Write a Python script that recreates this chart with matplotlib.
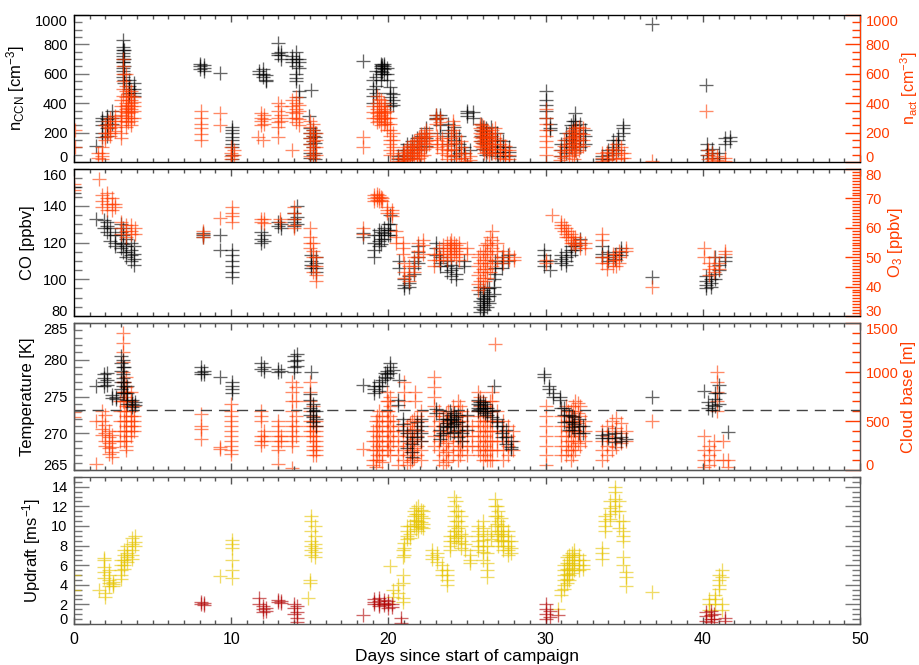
import matplotlib
matplotlib.use('Agg')
from matplotlib import pyplot as plt
from matplotlib.ticker import MultipleLocator

plt.rcParams['font.family'] = ['Liberation Sans', 'DejaVu Sans']
plt.rcParams['mathtext.default'] = 'regular'

# Data: columns of (day, [values])
ccn = [
    (1.4, [110]), (1.8, [300, 280, 250, 200, 170]), (2.1, [310, 290, 260, 230, 180]),
    (2.4, [350, 300, 260]), (3.1, [830, 780, 760, 740, 700, 680, 640]),
    (3.15, [720, 680, 620, 580]),
    (3.2, [760, 700, 650, 600, 560, 540]), (3.5, [560, 520, 500, 470, 450]),
    (3.8, [540, 500, 470, 450]),
    (8.0, [670, 650, 630]), (8.3, [660, 640, 620]), (9.3, [605]),
    (10.05, [240, 220, 195, 170, 150, 120, 100, 50, 20]),
    (11.8, [620, 600]), (12.0, [630, 600, 580]), (12.2, [590, 560, 550]),
    (13.0, [810, 740, 730]), (13.2, [750, 730, 700]),
    (13.9, [720, 700, 680]), (14.1, [750, 700, 650, 600, 570, 550]), (14.3, [700, 680, 640, 480, 445]),
    (15.1, [490]), (14.95, [310]),
    (15.0, [230, 200, 160, 120, 60, 25]), (15.2, [220, 180, 140, 100, 50]), (15.35, [200, 170, 130, 60, 20]),
    (18.4, [684]),
    (19.0, [560, 500, 450, 400]), (19.2, [620, 580, 520, 470]),
    (19.5, [670, 650, 640, 620, 600, 560]), (19.6, [660, 640, 610]),
    (19.7, [670, 650, 630, 600]), (19.9, [640, 600, 560]),
    (20.1, [510, 470, 440, 400, 380]), (20.3, [460, 420, 390]),
    (20.6, [40, 20]), (20.9, [80, 50, 20]), (21.2, [120, 80, 40]), (21.5, [140, 100, 60, 30]),
    (21.8, [160, 120, 80]), (22.1, [180, 140, 100]), (22.4, [230, 200, 160, 110]),
    (23.0, [320, 300, 290]), (23.3, [320, 300, 250, 200]),
    (23.8, [260, 220, 180, 120]), (24.2, [240, 200, 150, 80, 40]), (24.5, [180, 120, 60]),
    (25.0, [350, 330, 310]), (25.4, [340, 300]), (24.8, [100, 60]), (25.2, [80]),
    (25.9, [260, 220, 180, 140]), (26.05, [240, 210, 170, 130, 90]),
    (26.2, [230, 200, 160, 120, 80, 50]),
    (26.5, [240, 180, 140, 100, 60]), (26.9, [200, 150, 110, 70, 40]),
    (27.3, [140, 100, 70, 40]), (27.7, [100, 70, 40]),
    (30.0, [480, 420, 390, 350, 300]), (30.3, [260, 230, 220]),
    (31.0, [120, 80, 40]), (31.3, [200, 150, 100, 60]), (31.6, [250, 200, 150, 100]),
    (31.75, [280, 230, 180, 130]),
    (31.9, [330, 280, 250, 200, 150, 80]), (32.2, [260, 200, 150, 100]), (32.5, [220, 180, 120]),
    (33.6, [40, 20]), (34.0, [80, 50, 20]), (34.3, [150, 100, 60]), (34.6, [180, 150, 120, 80]),
    (34.9, [250, 230, 200]),
    (36.8, [940]), (40.2, [525]),
    (40.25, [120, 80, 50]), (40.6, [90, 60, 30]), (41.0, [60, 30]),
    (41.4, [160, 120]), (41.7, [170, 140]),
]

nact = [
    (0.05, [220, 100]), (1.5, [60, 30]), (1.8, [100, 60, 40, 20]),
    (2.0, [250, 200, 170, 150]), (2.15, [280, 240, 200]),
    (2.3, [300, 260, 230, 200, 180]), (2.6, [310, 280, 240, 210]),
    (3.0, [420, 380, 350, 320, 300, 280, 250, 200, 160]), (3.1, [700, 650, 600, 550, 500, 450]),
    (3.3, [600, 520, 480, 440, 400, 380, 360, 340, 310, 280, 240]),
    (3.45, [460, 420, 390, 370, 350, 330, 300, 270]),
    (3.6, [480, 450, 420, 400, 380, 360, 340, 300, 280, 250]), (3.8, [440, 410, 380, 350, 300]),
    (8.1, [350, 300, 260, 230, 190, 150]), (9.3, [330, 250]),
    (10.0, [100, 60, 40, 20]), (10.2, [80, 50]),
    (11.9, [330, 300, 280, 250]), (12.1, [320, 290, 260]), (11.7, [170]), (12.0, [150]),
    (13.0, [400, 350, 300, 270, 240, 170]), (13.2, [380, 320, 280]),
    (13.9, [420, 380, 340, 300, 80]), (14.1, [440, 400, 360, 330, 300, 270]), (14.3, [390, 350, 290, 250]),
    (15.0, [280, 240, 200, 160, 120, 80, 40]), (15.2, [260, 220, 180, 140, 100, 60, 30]),
    (15.4, [200, 150, 100, 50]),
    (18.4, [170, 100]),
    (19.0, [380, 340, 300]), (19.3, [450, 400, 360, 330, 300, 270]),
    (19.4, [430, 380, 340, 310, 280]),
    (19.5, [420, 380, 350, 320, 290, 250]), (19.7, [400, 360, 330, 300, 260]),
    (19.8, [380, 340, 300, 270]), (19.9, [350, 300, 260, 220]),
    (20.1, [300, 260, 220, 180, 150, 120, 80, 50]), (20.3, [200, 150, 100, 60]),
    (20.6, [30, 10]), (20.9, [60, 30, 10]), (21.0, [80, 50, 20]),
    (21.2, [100, 70, 40, 15]), (21.35, [110, 80, 50, 20]), (21.5, [120, 90, 60, 30]),
    (21.65, [140, 110, 70, 40]),
    (21.8, [150, 120, 90, 50, 20]), (21.95, [170, 140, 100, 60, 30]),
    (22.1, [190, 160, 120, 80, 40]), (22.25, [200, 170, 130, 90, 50]), (22.4, [220, 180, 140, 100]),
    (22.6, [200, 150, 120]),
    (23.0, [320, 290, 260]), (23.3, [300, 270]),
    (23.1, [180, 150, 120, 100]), (23.4, [160, 120, 90, 60]),
    (23.7, [140, 110, 80, 50, 20]), (24.0, [200, 160, 120, 80, 40]), (24.1, [280, 250, 220]),
    (24.3, [180, 130, 90, 50, 20]), (24.6, [140, 100, 60, 30]),
    (24.9, [60, 30, 10]), (25.2, [40, 15]),
    (25.8, [260, 230, 200, 170, 140, 110]), (25.95, [250, 220, 190, 160, 130, 100]),
    (26.1, [240, 210, 180, 150, 120, 90, 60]), (26.25, [220, 190, 160, 130, 100, 70]),
    (26.4, [200, 170, 140, 110, 80, 50]), (26.6, [220, 180, 150, 120, 90, 60]),
    (26.8, [230, 200, 160, 120, 90, 60]),
    (27.1, [150, 120, 90, 60, 30]), (27.4, [110, 80, 50, 20]), (27.7, [80, 50, 20]),
    (30.0, [360, 300, 260, 220, 180, 140, 100, 50]),
    (30.9, [80, 40, 15]), (31.2, [150, 110, 70, 30]), (31.5, [200, 160, 120, 80, 40]),
    (31.65, [210, 170, 130, 90, 50]),
    (31.8, [220, 180, 140, 100, 60, 20]), (31.95, [230, 190, 150, 110, 70]),
    (32.1, [240, 200, 160, 120, 80]), (32.4, [230, 190, 150, 110]),
    (33.6, [60, 30, 10]), (33.9, [70, 40, 15]), (34.2, [90, 60, 30]), (34.5, [120, 80, 50, 20]),
    (34.8, [100, 60, 30]), (35.0, [60, 30]),
    (36.8, [10]), (40.2, [350]),
    (40.3, [80, 50, 20]), (40.6, [60, 30, 10]), (40.9, [40, 15]), (41.4, [30, 10]),
]

co = [
    (0.0, [150, 147]), (1.4, [133]),
    (1.9, [132, 128]), (2.1, [131, 129, 126]), (2.3, [128, 124, 121]), (2.6, [124, 120, 118]),
    (3.0, [130, 126, 120, 117]), (3.15, [128, 124, 119, 115]),
    (3.3, [122, 118, 115, 112]), (3.6, [120, 116, 113, 110]),
    (3.8, [118, 114, 111, 108]),
    (8.2, [125, 124, 123]), (9.3, [124, 116]),
    (10.05, [116, 113, 110, 107, 104, 101]),
    (11.9, [126, 122, 120]), (12.1, [124, 121]),
    (13.0, [131, 129]), (13.2, [130, 128]),
    (14.0, [136, 133, 131, 129]), (14.2, [140, 134, 130]),
    (15.1, [113, 110, 108, 106]), (15.4, [112, 109, 106, 104]),
    (18.4, [125, 123]),
    (19.1, [124, 120, 116, 112]), (19.4, [127, 124, 121, 118]), (19.55, [126, 122, 119]),
    (19.7, [128, 125, 122]),
    (20.0, [130, 127, 124]), (20.1, [135, 130, 127, 124]),
    (20.7, [110, 106]), (21.0, [100, 97, 95]), (21.3, [102, 98, 96]), (21.6, [110, 106, 103]),
    (21.9, [118, 115, 112, 109]),
    (23.0, [120, 117, 113]), (23.3, [112, 109, 107]), (23.7, [110, 107, 104]),
    (24.0, [108, 105, 102]), (24.3, [106, 103, 100]), (24.8, [110, 107]),
    (25.8, [96, 92, 88, 85, 82]), (26.0, [94, 90, 87, 84]), (26.1, [93, 89, 86, 83]),
    (26.25, [95, 91, 88, 85]), (26.4, [95, 91, 87]),
    (26.7, [100, 96, 92]), (26.8, [110, 106, 103]), (27.2, [112, 109, 106]), (27.6, [113, 110]),
    (29.9, [116, 113, 110, 107]), (30.3, [110, 105]),
    (31.0, [113, 111, 109]), (31.3, [115, 112, 110, 108]), (31.6, [118, 116, 113]),
    (31.9, [120, 118, 116]), (32.2, [122, 120]),
    (33.6, [118, 114, 112]), (34.0, [115, 112, 110]), (34.4, [113, 111]), (34.8, [117, 115, 113]),
    (36.8, [101]),
    (40.2, [102, 99, 97, 95]), (40.5, [100, 98, 96]), (40.8, [112, 103, 100]),
    (41.0, [108, 105]), (41.4, [112, 110]),
]

o3 = [
    (0.0, [75, 73]), (1.6, [76.5]),
    (1.8, [71, 69, 67]), (2.1, [72, 70, 68, 66]), (2.4, [70, 68, 66]), (2.6, [68, 67]),
    (3.0, [62, 60, 58]), (3.3, [61, 59, 57]), (3.6, [61, 59, 58]), (3.9, [60, 58]),
    (8.2, [59, 58, 57]), (9.3, [63.5]), (10.05, [67, 65, 64, 62]),
    (11.9, [63, 62]), (12.1, [63, 61.5]), (13.1, [63, 62]),
    (14.0, [67, 65, 63, 61, 60]),
    (15.0, [60, 57, 55, 53]), (15.2, [55, 52, 50, 47, 45]), (15.4, [50, 47, 44, 42]),
    (18.4, [60, 58]),
    (19.1, [71, 70, 69]), (19.25, [71.5, 70.5, 69.5]), (19.4, [71, 70, 69]),
    (19.5, [70.5, 69.5]), (19.6, [70, 69]),
    (19.9, [67, 66, 65]), (20.2, [66, 65, 64]),
    (20.5, [59, 57, 55]), (20.9, [55, 53, 51]),
    (21.0, [48, 45, 43]), (21.3, [47, 44, 42]), (21.6, [50, 47, 45]),
    (21.9, [55, 52, 50]), (22.2, [56, 54, 51]),
    (22.9, [51, 49, 47]), (23.2, [53, 51, 49]), (23.5, [54, 52, 50]), (23.7, [55, 53, 51, 49]),
    (23.9, [55, 53, 51]),
    (24.0, [56, 54, 52, 50]), (24.2, [55, 53, 51]), (24.3, [54, 52, 50]),
    (24.5, [55, 53, 51, 49]), (25.0, [53, 51]),
    (25.7, [50, 47, 44, 41, 39]), (25.85, [51, 48, 45, 42]), (26.0, [52, 49, 46, 43, 40]),
    (26.15, [54, 51, 48, 45, 42]), (26.3, [55, 52, 49, 46, 43]),
    (26.45, [57, 54, 51, 48, 45]), (26.6, [59, 56, 53, 50, 47]), (26.9, [55, 52, 49]),
    (27.3, [52, 50, 48]), (27.7, [51, 49]), (28.0, [50, 49]),
    (30.0, [49, 48]), (30.4, [64.5]),
    (31.0, [62, 61, 60]), (31.15, [61, 59]), (31.3, [60, 58, 57]), (31.45, [59, 57]),
    (31.6, [58, 56, 55]), (31.75, [57, 55]), (31.9, [57, 55, 54]),
    (32.2, [56, 54, 53]), (32.5, [55, 53]),
    (33.6, [58, 56, 50, 48]), (33.9, [50, 48, 46]), (34.3, [51, 49, 47]), (34.5, [51, 49, 47]),
    (34.7, [52, 50, 48]), (35.1, [53, 52]),
    (36.8, [40]),
    (40.1, [53, 50]), (40.4, [48, 46, 44]), (40.7, [50, 47, 45]), (41.0, [48, 46]), (41.4, [52, 51]),
]

temp = [
    (1.4, [276.4]), (1.9, [278, 277.5, 277, 276.5]), (2.1, [278.2, 277.3, 276.6]),
    (2.4, [275.2, 274.8]), (2.7, [275.0, 274.6]),
    (3.0, [280.5, 279.5, 278.5, 277, 276]), (3.1, [280, 279, 278, 277.5, 276.5, 275.5]),
    (3.2, [279, 277, 275.5]),
    (3.4, [276.5, 275.5, 274.5, 274.0]), (3.7, [274.5, 274.0, 273.6]), (3.9, [274.3, 273.8]),
    (8.1, [279, 278.4, 278]), (8.3, [278.5, 278]), (9.3, [277.7]),
    (10.05, [277, 276.5, 276, 275.5]),
    (11.9, [279.6, 278.7]), (12.1, [279, 278.5]),
    (13.0, [278.7, 278.3]), (13.2, [278.5]),
    (14.0, [280.5, 279.8, 279, 278.4]), (14.2, [280.8, 280, 279.2]),
    (15.05, [278.3]),
    (15.0, [275.3, 274.5, 273.5, 272.5]), (15.2, [274, 273, 272.2, 271.5]), (15.4, [273, 272, 271]),
    (18.4, [276.6]),
    (19.1, [276.5, 276, 275.5]), (19.4, [277, 276.5, 275.8]), (19.6, [277.2, 276.5]),
    (19.8, [278.2, 277.6]),
    (19.9, [278.5, 278, 277.5]), (20.1, [279.5, 279, 278.2]), (20.3, [278.6]),
    (20.7, [277.2]),
    (20.6, [274.5, 273.8]), (20.9, [272, 271.2, 270.5]), (21.2, [270, 269, 268]),
    (21.5, [269.5, 268.5, 267.5, 266.8]), (21.8, [271.5, 270.5, 269.5]), (22.1, [272, 271, 270, 269]),
    (23.0, [273.3, 272.8]), (23.3, [270.5, 269.8, 269.2]), (23.7, [272, 271.4, 270.8]),
    (24.0, [272.5, 271.8, 271]), (24.2, [272.8, 272, 271.2, 270.2]), (24.3, [272.2, 271.5]),
    (23.5, [272, 271, 270]), (23.9, [273, 272, 271, 270]), (24.4, [272.5, 271.5, 270.5, 269.5]),
    (24.7, [271, 270, 269]), (25.0, [272.5, 270.5]),
    (25.7, [274.5, 274, 273.5, 273]), (25.85, [274.3, 273.8, 273.3]),
    (26.0, [274.2, 273.5, 273]), (26.15, [274, 273.4, 272.8]), (26.3, [273.5, 273, 272.5]),
    (26.6, [273, 272.2]), (26.7, [276.4]),
    (26.9, [272, 271.5, 271]), (27.2, [271, 270, 269.5]), (27.5, [270.5, 269.5, 268.5]),
    (27.8, [269, 268.2, 267.8]),
    (29.9, [278, 277.6]), (30.2, [276.5, 276]), (30.5, [275.5, 275]),
    (30.9, [275, 274.5]), (31.0, [273.5]),
    (31.2, [273.5, 272.5, 271.5]), (31.5, [272.5, 271.5, 270.5]), (31.65, [272.4, 271.6, 270.8]),
    (31.8, [272.2, 271.3, 270.5]),
    (32.1, [272, 271, 270]), (32.4, [271, 270]),
    (33.6, [269.8, 269.3]), (34.0, [269.9, 269.4]), (34.4, [270, 269.3, 268.8]),
    (34.8, [269.5, 269]), (35.1, [269.2]),
    (36.8, [275]),
    (40.1, [275.8]), (40.3, [274.2, 273.5]), (40.6, [273.8, 273.2]), (40.8, [275.5, 274.6, 273.7]),
    (41.0, [276.6, 275.5, 274]), (41.6, [270.2]),
]

cloud_base = [
    (0.0, [590, 540]), (1.4, [500, 60]),
    (1.8, [600, 500, 420, 360]), (2.0, [560, 460, 380, 300, 250]), (2.2, [400, 340, 280, 220, 160]),
    (2.4, [360, 300, 240, 180, 130]),
    (2.9, [700, 600, 500, 400, 300]), (3.1, [1400, 1300, 1200, 1100, 1000, 900, 800, 700]),
    (3.2, [900, 800, 700, 600, 500, 400, 300]),
    (3.3, [950, 850, 800, 750, 700, 650, 600, 550, 500, 450, 400, 350, 300, 250, 200]),
    (3.6, [800, 700, 650, 600, 550, 500, 450, 400, 350]), (3.8, [650, 550, 500, 450, 400]),
    (8.1, [570, 450, 420, 320]), (9.3, [230, 210]),
    (10.0, [670, 600, 550, 500, 450, 400, 350, 300, 250, 200, 160]),
    (11.9, [600, 550, 500, 350, 300, 260]), (12.1, [400, 350, 300]),
    (13.0, [500, 450, 400, 350, 300, 250, 200, 60]), (13.2, [350, 300]),
    (13.9, [900, 800, 700, 600, 500, 450, 400, 350, 300, 250, 20]), (14.1, [850, 700, 550, 450, 350]),
    (15.0, [900, 800, 700, 600, 500, 450, 400, 350]),
    (15.2, [650, 550, 500, 450, 400, 350, 300, 250, 200, 150]),
    (15.4, [500, 450, 400, 350, 300, 250, 200, 150]),
    (18.4, [210]),
    (19.0, [400, 300, 200, 100, 50]), (19.2, [500, 400, 300, 200, 100, 30]),
    (19.3, [550, 450, 350, 250, 150]),
    (19.4, [600, 500, 400, 300, 200, 100]), (19.6, [550, 450, 350, 250, 150, 80]),
    (19.9, [800, 700, 600, 500, 400, 300, 200]), (20.0, [700, 600, 500, 400, 300, 200]),
    (20.1, [750, 650, 550, 450, 350, 250, 150]),
    (20.3, [500, 400, 300]),
    (20.6, [450, 350, 250, 150, 50]), (20.9, [400, 300, 200, 100]), (21.0, [900, 800, 700]),
    (21.2, [450, 350, 250, 150, 50]), (21.35, [480, 380, 280, 180, 80]),
    (21.5, [500, 400, 300, 200, 100]), (21.65, [520, 420, 320, 220, 120]),
    (21.7, [800, 700]), (21.8, [550, 450, 350, 250, 150]), (22.1, [600, 500, 400, 300, 200, 100]),
    (22.9, [950, 850, 750, 650, 550, 450, 350, 250]), (23.2, [600, 500, 400, 300, 200, 100]),
    (23.5, [550, 450, 350, 250, 150, 50]), (23.65, [580, 480, 380, 280, 180, 80]),
    (23.8, [600, 500, 400, 300, 200, 100]),
    (24.1, [650, 550, 450, 350, 250, 150]),
    (24.4, [700, 600, 500, 400, 300, 200, 100]), (24.55, [650, 550, 450, 350, 250, 150]),
    (24.7, [600, 500, 400, 300, 200]),
    (25.0, [550, 450, 350, 250, 150]), (25.3, [450, 350, 250]),
    (25.7, [800, 700, 600, 500, 400, 300, 200]), (25.85, [750, 650, 550, 450, 350, 250, 150]),
    (26.0, [700, 600, 500, 400, 300, 200, 100]), (26.15, [650, 550, 450, 350, 250, 150]),
    (26.3, [600, 500, 400, 300, 200, 100]), (26.45, [700, 600, 500, 400, 300, 200, 100]),
    (26.6, [800, 700, 600, 500, 400, 300, 200, 100]),
    (26.8, [1290]), (26.9, [600, 500, 400, 300, 200]),
    (27.3, [500, 400, 300, 200, 100]), (27.6, [450, 350, 250, 150]), (27.9, [400, 300, 200]),
    (30.0, [650, 550, 450, 350, 250, 150, 50]),
    (31.0, [550, 450, 350, 250, 150]), (31.3, [650, 550, 450, 350, 250, 150]),
    (31.45, [600, 500, 400, 300, 200]),
    (31.6, [600, 500, 400, 300, 200, 100]), (31.75, [650, 550, 450, 350, 250, 150]),
    (31.9, [700, 600, 500, 400, 300, 200]), (32.05, [680, 580, 480, 380, 280]),
    (32.2, [650, 550, 450, 350, 250]), (32.5, [500, 400, 300]),
    (33.6, [400, 300, 200, 100]), (33.9, [450, 350, 250, 150]), (34.2, [500, 400, 300, 200]),
    (34.5, [530, 430, 330, 230]), (34.8, [480, 380, 280]), (35.1, [400, 300]),
    (36.8, [500]),
    (40.1, [350, 200, 100, 30]), (40.4, [250, 150, 50]), (40.7, [300, 200, 100]),
    (40.9, [1000, 900, 800, 700, 600]), (41.3, [300, 100]), (41.6, [100, 30]),
]

updraft_yellow = [
    (0.0, [5.0, 3.5]), (1.6, [3.5]), (2.0, [3.2, 2.8]),
    (1.9, [6.7, 6.5, 5.8, 5.3, 4.7]), (2.2, [5.5, 5.0, 4.5, 4.2, 3.9]), (2.5, [4.3, 4.1, 3.9]),
    (3.0, [6.5, 6.0, 5.5, 5.0, 4.6]), (3.2, [7.5, 7.0, 6.5, 6.0, 5.6]), (3.4, [8.0, 7.2, 6.8, 6.3]),
    (3.7, [8.8, 8.2, 7.5, 7.0, 6.6]), (3.9, [9.0, 8.4, 8.0]),
    (9.3, [4.9]), (10.05, [8.6, 8.2, 7.8, 6.5, 5.5, 4.7]),
    (15.0, [4.5, 4.2]), (14.9, [2.6]),
    (15.1, [11.0, 10.5, 9.5, 8.5, 8.0, 7.5, 7.0]), (15.3, [10.0, 9.0, 8.2, 7.8, 7.3, 6.8]),
    (20.1, [5.9]), (20.3, [3.5, 2.8]), (20.6, [4.0, 3.2]), (20.9, [5.0, 4.2, 2.7, 2.2]),
    (20.95, [7.5, 6.8]), (21.0, [8.3, 7.8, 7.0]), (21.2, [10.0, 9.5, 9.0, 8.7]),
    (21.4, [10.0, 9.2, 8.8]),
    (21.6, [11.5, 11.0, 10.5, 10.0]), (21.75, [11.8, 11.2, 10.6, 10.2, 9.7]),
    (21.9, [12.0, 11.2, 10.5, 10.0, 9.5]), (22.05, [11.6, 11.0, 10.4, 9.9]),
    (22.2, [11.5, 10.8, 10.2, 9.8]),
    (22.8, [7.5, 7.0, 6.6]), (23.1, [7.2, 6.8, 6.3]),
    (23.4, [6.0, 5.5, 5.0]), (23.7, [5.5, 5.0, 4.5, 4.0]),
    (23.9, [9.0, 8.5, 8.0, 7.5]), (24.2, [13.0, 12.0, 11.0, 10.0, 9.5, 9.0, 8.5]),
    (24.3, [12.5, 11.5, 10.5, 9.5, 8.8]),
    (24.4, [11.5, 10.5, 9.8, 9.0, 8.3]), (24.6, [11.0, 10.0, 9.2, 8.5, 7.8]),
    (24.9, [9.0, 8.2, 7.5]), (25.2, [7.0, 6.5, 6.2]),
    (25.7, [10.0, 9.5, 9.0, 8.5, 8.0, 7.5]), (26.0, [10.5, 9.8, 9.2, 8.6, 8.0, 7.3, 6.5]),
    (26.3, [9.0, 8.0, 7.2, 6.2, 5.5, 4.8]), (26.5, [9.5, 8.7]),
    (26.8, [12.8, 12.0, 11.0, 10.0]), (26.9, [12.0, 11.0, 10.2, 9.2]),
    (27.0, [11.5, 10.5, 9.5, 9.0, 8.5, 8.0]), (27.15, [10.8, 10.0, 9.2, 8.6]),
    (27.3, [10.0, 9.5, 9.0, 8.5, 8.0, 7.5]), (27.6, [9.5, 9.0, 8.5, 8.0, 7.5, 7.0]),
    (27.8, [8.5, 7.8, 7.2]),
    (31.0, [3.5, 3.0]), (30.8, [1.5]),
    (31.2, [6.0, 5.5, 5.0, 4.5, 4.0, 3.6]), (31.35, [6.8, 6.2, 5.6, 5.1, 4.6, 4.2]),
    (31.5, [7.0, 6.5, 6.0, 5.5, 5.0, 4.5]), (31.65, [7.2, 6.8, 6.2, 5.7, 5.2]),
    (31.8, [7.5, 7.0, 6.5, 6.0, 5.5]), (32.1, [7.0, 6.5, 6.0, 5.5]), (32.4, [6.5, 6.0, 5.6]),
    (33.6, [7.8, 7.2, 6.6]),
    (33.8, [11.0, 10.5, 10.0, 9.5]), (34.1, [12.5, 11.8, 11.2, 10.7]),
    (34.4, [14.0, 13.5, 12.8, 12.0, 11.5]), (34.7, [12.5, 11.5, 10.5, 9.8]),
    (34.9, [10.5, 9.5, 9.0, 8.5, 6.8, 6.0]), (35.1, [5.3, 4.8, 3.9]),
    (36.8, [3.3]),
    (40.4, [2.5, 2.0, 1.4]), (40.8, [3.0, 2.5, 2.0]), (41.0, [5.0, 4.5, 4.0, 3.6]),
    (41.2, [5.5, 4.8, 2.0, 1.4]),
]

updraft_red = [
    (8.1, [2.2, 2.0]), (8.3, [2.1, 1.9]),
    (11.8, [2.6, 2.0]), (12.0, [1.8, 1.5, 1.2]), (12.2, [1.6, 1.3]),
    (13.0, [2.4, 2.2]), (13.2, [2.3, 2.1]),
    (14.0, [2.0, 1.6, 1.0]), (14.2, [1.8, 1.2, 0.6, 0.2]),
    (18.4, [0.9]),
    (19.1, [2.5, 2.2, 2.0]), (19.4, [2.6, 2.3, 2.0, 1.8]), (19.7, [2.4, 2.1, 1.9]),
    (20.0, [2.3, 2.0, 1.6]), (20.2, [2.0, 1.7]), (20.8, [0.6, 0.1]),
    (30.0, [2.0, 1.5, 1.0, 0.5]), (30.3, [1.3, 0.7]), (30.8, [0.9]),
    (40.2, [1.2, 0.8, 0.3]), (40.5, [1.3, 0.9, 0.5, 0.2]), (40.7, [1.0, 0.5]), (41.4, [0.6, 0.3]),
]

RED = '#ff3c00'
YELLOW = '#e6c400'
DARKRED = '#b00000'
SPINE = '#555555'
LABEL_SIZE = 12
TICK_SIZE = 10.5


def flatten(columns):
    xs, ys = [], []
    for day, vals in columns:
        xs += [day] * len(vals)
        ys += vals
    return xs, ys


def plus(ax, columns, color, alpha=0.6):
    xs, ys = flatten(columns)
    ax.plot(xs, ys, linestyle='none', marker='+', ms=9.5, mew=0.95,
            color=color, alpha=alpha)


def style_left(ax, major, minor):
    ax.yaxis.set_major_locator(MultipleLocator(major))
    ax.yaxis.set_minor_locator(MultipleLocator(minor))
    ax.tick_params(axis='y', which='major', direction='in', length=11, width=1, color='#777777',
                   labelsize=TICK_SIZE, pad=4.5, left=True, right=False)
    ax.tick_params(axis='y', which='minor', direction='in', length=5.5, width=1, color='#777777',
                   left=True, right=False)


def style_right(ax, major, minor, color=RED):
    ax.yaxis.set_major_locator(MultipleLocator(major))
    ax.yaxis.set_minor_locator(MultipleLocator(minor))
    ax.tick_params(axis='y', which='major', direction='in', length=11, width=1, color=color,
                   labelsize=TICK_SIZE, labelcolor=color, pad=4)
    ax.tick_params(axis='y', which='minor', direction='in', length=5.5, width=1, color=color)
    ax.spines['right'].set_color(color)


fig = plt.figure(figsize=(9.19, 6.65), dpi=100)
left, width, height = 0.0805, 0.8553, 0.221
bottoms = [0.7564, 0.5248, 0.2932, 0.0617]
axes = []
for b in bottoms:
    ax = fig.add_axes([left, b, width, height])
    ax.set_xlim(0, 50)
    ax.xaxis.set_major_locator(MultipleLocator(10))
    ax.xaxis.set_minor_locator(MultipleLocator(1))
    ax.tick_params(axis='x', which='major', direction='in', length=5, width=1, color='#555555',
                   top=True, bottom=True, labelsize=11.5, pad=6)
    ax.tick_params(axis='x', which='minor', direction='in', length=3, width=1, color='#555555',
                   top=True, bottom=True)
    for s in ax.spines.values():
        s.set_color(SPINE)
        s.set_linewidth(1)
    if b != bottoms[-1]:
        ax.tick_params(axis='x', labelbottom=False)
    axes.append(ax)

ax1, ax2, ax3, ax4 = axes

# Panel 1: CCN and activated droplets
ax1.set_ylim(0, 1000)
style_left(ax1, 200, 50)
ax1.set_ylabel(r'n$_{CCN}$ [cm$^{-3}$]', fontsize=LABEL_SIZE, labelpad=6)
plus(ax1, ccn, 'black')
ax1r = ax1.twinx()
ax1r.set_ylim(0, 1000)
style_right(ax1r, 200, 50)
ax1r.set_ylabel(r'n$_{act}$ [cm$^{-3}$]', fontsize=11.5, color=RED, labelpad=0)
plus(ax1r, nact, RED)

# Panel 2: CO and O3
ax2.set_ylim(80, 160)
style_left(ax2, 20, 5)
ax2.set_ylabel('CO [ppbv]', fontsize=LABEL_SIZE, labelpad=6)
plus(ax2, co, 'black')
ax2r = ax2.twinx()
ax2r.set_ylim(30, 80)
style_right(ax2r, 10, 1)
ax2r.set_ylabel(r'O$_3$ [ppbv]', fontsize=LABEL_SIZE, color=RED, labelpad=3)
plus(ax2r, o3, RED)

# Panel 3: temperature and cloud base
ax3.set_ylim(265, 285)
style_left(ax3, 5, 1)
ax3.set_ylabel('Temperature [K]', fontsize=LABEL_SIZE, labelpad=6)
ax3r = ax3.twinx()
ax3r.set_ylim(0, 1500)
style_right(ax3r, 500, 100)
ax3r.set_ylabel('Cloud base [m]', fontsize=LABEL_SIZE, color=RED, labelpad=2)
plus(ax3r, cloud_base, RED)
ax3.set_zorder(ax3r.get_zorder() + 1)
ax3.patch.set_visible(False)
ax3.axhline(273.15, color='#444444', lw=1, linestyle=(0, (8, 5)))
plus(ax3, temp, 'black')

# Panel 4: updraft
ax4.set_ylim(0, 15)
style_left(ax4, 2, 0.5)
ax4.tick_params(axis='y', which='both', right=True)
ax4.set_ylabel(r'Updraft [ms$^{-1}$]', fontsize=LABEL_SIZE, labelpad=6)
plus(ax4, updraft_yellow, YELLOW)
plus(ax4, updraft_red, DARKRED)
ax4.set_xlabel('Days since start of campaign', fontsize=12.5, labelpad=1)

# keep edge tick labels inside their panel, as in the original
fig.canvas.draw()
for ax in axes + [ax1r, ax2r, ax3r]:
    lo, hi = ax.get_ylim()
    for tick in ax.yaxis.get_major_ticks():
        loc = tick.get_loc()
        if abs(loc - lo) < 1e-6 * max(1, abs(lo)):
            tick.label1.set_va('baseline')
            tick.label2.set_va('baseline')
        elif abs(loc - hi) < 1e-6 * max(1, abs(hi)):
            tick.label1.set_va('top')
            tick.label2.set_va('top')

fig.savefig('out.png', dpi=100)
